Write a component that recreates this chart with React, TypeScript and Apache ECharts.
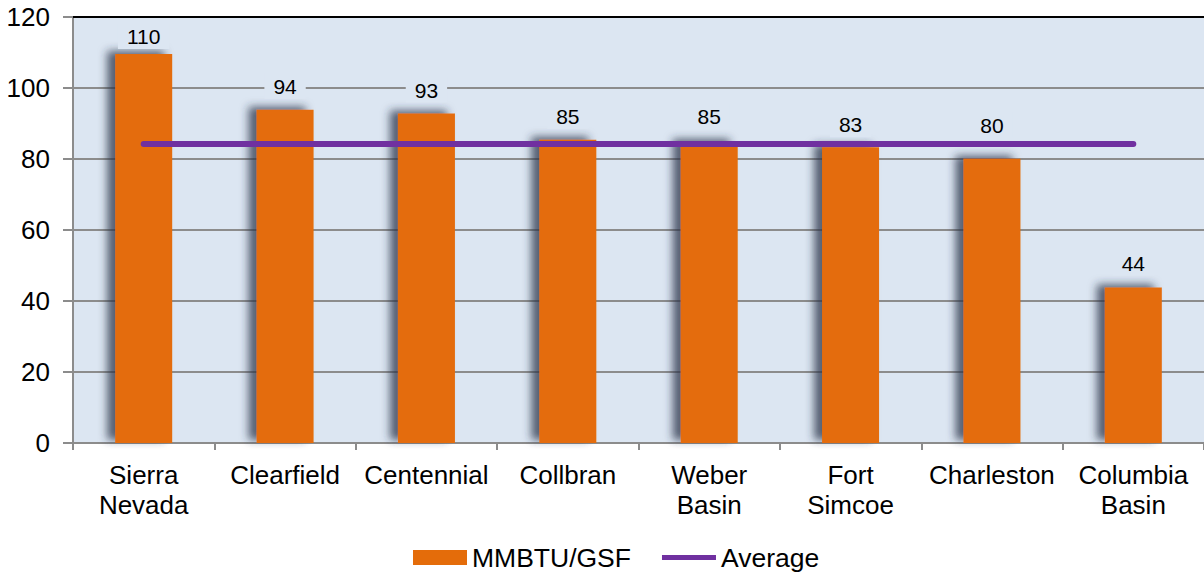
import React, { useEffect, useRef } from "react";
import * as echarts from "echarts";

const categories = [
  "Sierra\nNevada",
  "Clearfield",
  "Centennial",
  "Collbran",
  "Weber\nBasin",
  "Fort\nSimcoe",
  "Charleston",
  "Columbia\nBasin",
];
const mmbtuValues = [109.6, 93.9, 92.8, 85.4, 84.8, 83.3, 80.1, 43.8];
const averageValues = [84.2, 84.2, 84.2, 84.2, 84.2, 84.2, 84.2, 84.2];
const yTicks = { min: 0, max: 120, interval: 20 };

// label gap above each bar (style only)
const labelDistances = [5, 11, 11, 11, 13, 10, 21, 12];

const FONT = "'Liberation Sans', Arial, sans-serif";

export default function App() {
  const ref = useRef<HTMLDivElement>(null);
  useEffect(() => {
    if (!ref.current) return;
    const chart = echarts.init(ref.current, null, { renderer: "svg" });
    chart.setOption({
      animation: false,
      backgroundColor: "#ffffff",
      textStyle: { fontFamily: FONT },
      grid: {
        left: 73,
        right: 0,
        top: 17,
        bottom: 133,
        show: true,
        backgroundColor: "#DCE6F2",
        borderWidth: 0,
      },
      legend: {
        bottom: 0,
        left: 408,
        itemGap: 31,
        itemWidth: 54,
        itemHeight: 15,
        textStyle: { fontFamily: FONT, fontSize: 26.5, color: "#000" },
        data: [
          { name: "MMBTU/GSF", icon: "rect" },
          {
            name: "Average",
            icon: "path://M0,0 L56,0 L56,5 L0,5 Z",
            itemStyle: { color: "#7030A0" },
          },
        ],
      },
      xAxis: [
        {
          type: "category",
          data: categories,
          position: "bottom",
          axisLine: { show: true, lineStyle: { color: "#8c8c8c", width: 2 } },
          axisTick: { show: true, length: 7, lineStyle: { color: "#8c8c8c", width: 2 } },
          axisLabel: {
            fontFamily: FONT,
            fontSize: 26,
            color: "#000",
            lineHeight: 30,
            margin: 17,
            interval: 0,
          },
          splitLine: { show: false },
        },
        {
          type: "category",
          data: categories,
          position: "top",
          axisLine: { show: true, lineStyle: { color: "#000", width: 2 } },
          axisTick: { show: false },
          axisLabel: { show: false },
        },
      ],
      yAxis: {
        type: "value",
        min: yTicks.min,
        max: yTicks.max,
        interval: yTicks.interval,
        axisLine: { show: true, lineStyle: { color: "#8c8c8c", width: 2 } },
        axisTick: { show: true, length: 10, lineStyle: { color: "#8c8c8c", width: 2 } },
        axisLabel: { fontFamily: FONT, fontSize: 26, color: "#000", margin: 23 },
        splitLine: { show: true, lineStyle: { color: "#8c8c8c", width: 2 } },
      },
      series: [
        {
          name: "MMBTU/GSF",
          type: "bar",
          data: mmbtuValues.map((v, i) => ({
            value: v,
            label: { distance: labelDistances[i] },
          })),
          barWidth: 57,
          itemStyle: {
            color: "#E46C0A",
            shadowColor: "rgba(40,50,70,0.75)",
            shadowBlur: 8,
            shadowOffsetX: -8,
            shadowOffsetY: -3,
          },
          label: {
            show: true,
            position: "top",
            distance: 10,
            fontFamily: FONT,
            fontSize: 21,
            color: "#000",
            backgroundColor: "#DCE6F2",
            padding: [2, 9],
            formatter: (p: any) => String(Math.round(p.value)),
          },
          z: 2,
        },
        {
          name: "Average",
          type: "line",
          data: averageValues,
          symbol: "none",
          lineStyle: { color: "#7030A0", width: 6, cap: "round" },
          itemStyle: { color: "#7030A0" },
          z: 3,
        },
      ],
    });
    return () => chart.dispose();
  }, []);
  return (
    <div
      ref={ref}
      style={{ position: "fixed", left: 0, top: 0, width: 1204, height: 576 }}
    />
  );
}
